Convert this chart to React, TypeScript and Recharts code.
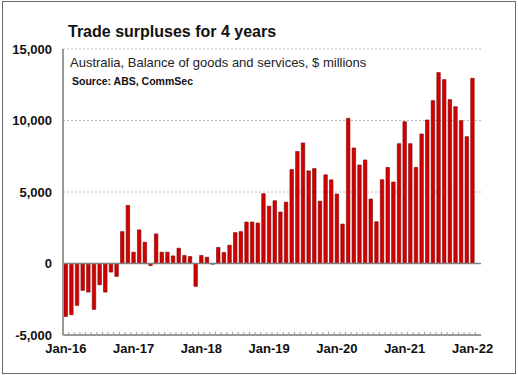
import React from 'react';
import { BarChart, Bar, XAxis, YAxis, CartesianGrid, ReferenceLine } from 'recharts';

const TITLE = 'Trade surpluses for 4 years';
const SUBTITLE = 'Australia, Balance of goods and services, $ millions';
const SOURCE = 'Source: ABS, CommSec';

const MONTH_NAMES = ['Jan', 'Feb', 'Mar', 'Apr', 'May', 'Jun', 'Jul', 'Aug', 'Sep', 'Oct', 'Nov', 'Dec'];
const YEARS = ['16', '17', '18', '19', '20', '21', '22'];
const SLOT_COUNT = 74; // Jan-16 .. Feb-22 (last slot empty)

// Balance of goods and services, $ millions, Jan-16 .. Jan-22
const balance: number[] = [
  -3700, -3580, -2930, -1880, -2000, -3210, -1490, -2000, -600, -900, 2230, 4060,
  790, 2350, 1490, -150, 2070, 790, 790, 530, 1070, 560, 490, -1600,
  560, 440, -50, 1120, 770, 1280, 2160, 2230, 2900, 2900, 2830, 4880,
  4010, 4390, 3600, 4290, 6570, 7830, 8430, 6480, 6640, 4360, 6200, 5850,
  4860, 2760, 10150, 8080, 6890, 7240, 4510, 2920, 5860, 6720, 5700, 8380,
  9920, 8380, 6720, 9060, 10040, 11390, 13350, 12860, 11460, 10970, 9990, 8870,
  12950,
];

const Y_TICKS = [-5000, 0, 5000, 10000, 15000];

const categories: string[] = [];
YEARS.forEach((y) => MONTH_NAMES.forEach((m) => categories.push(`${m}-${y}`)));
const data = categories.slice(0, SLOT_COUNT).map((c, i) => ({
  month: c,
  balance: i < balance.length ? balance[i] : null,
}));

const FONT = '"Liberation Sans", Arial, sans-serif';

const XTick = (props: any) => {
  const { x, y, payload } = props;
  const idx = payload.index;
  const off = payload.offset ?? 2.8;
  return (
    <g>
      <line x1={x - off} x2={x - off} y1={y} y2={y - 3} stroke="#999" strokeWidth={1} />
      {idx % 12 === 0 && (
        <text x={x} y={y + 17.5} textAnchor="middle" fontFamily={FONT} fontWeight="bold" fontSize={13} fill="#111">
          {payload.value}
        </text>
      )}
    </g>
  );
};

export default function App() {
  return (
    <div style={{ position: 'absolute', left: 0, top: 0, width: 518, height: 375, background: '#fff' }}>
      <BarChart
        width={518}
        height={375}
        data={data}
        margin={{ top: 49, right: 37, bottom: 12, left: 8 }}
        barSize={3.5}
      >
        <CartesianGrid vertical={false} stroke="#bbb" strokeDasharray="2 2" />
        <XAxis
          dataKey="month"
          interval={0}
          height={28}
          tickSize={0}
          tickMargin={0}
          tick={<XTick />}
          axisLine={{ stroke: '#999', strokeWidth: 2 }}
          tickLine={false}
        />
        <XAxis
          xAxisId="top"
          dataKey="month"
          orientation="top"
          height={0}
          tick={false}
          tickLine={false}
          axisLine={{ stroke: '#999', strokeWidth: 2 }}
        />
        <YAxis
          domain={[-5000, 15000]}
          ticks={Y_TICKS}
          width={55}
          tickLine={false}
          tickSize={6}
          tickMargin={5}
          allowDataOverflow
          tickFormatter={(v: number) => v.toLocaleString('en-US')}
          tick={{ fontFamily: FONT, fontWeight: 'bold', fontSize: 13, fill: '#111' }}
          axisLine={{ stroke: '#999', strokeWidth: 2 }}
        />
        <YAxis
          yAxisId="r"
          orientation="right"
          domain={[-5000, 15000]}
          ticks={Y_TICKS}
          width={0}
          tick={false}
          tickLine={false}
          axisLine={{ stroke: '#999', strokeWidth: 2 }}
        />
        <ReferenceLine y={0} stroke="#808080" strokeWidth={1.5} />
        <Bar dataKey="balance" fill="#d40000" stroke="#7a0000" strokeWidth={0.6} isAnimationActive={false} />
      </BarChart>
      <svg
        width={518}
        height={375}
        style={{ position: 'absolute', left: 0, top: 0, pointerEvents: 'none' }}
      >
        <text x={68} y={37} fontFamily={FONT} fontWeight="bold" fontSize={16} fill="#111">{TITLE}</text>
        <text x={70} y={67} fontFamily={FONT} fontSize={13} fill="#222">{SUBTITLE}</text>
        <text x={72} y={85} fontFamily={FONT} fontWeight="bold" fontSize={10.5} fill="#111">{SOURCE}</text>
      </svg>
      <div
        style={{
          position: 'absolute',
          left: 2,
          top: 1,
          width: 514,
          height: 373,
          border: '1.5px solid #6b6b6b',
          boxSizing: 'border-box',
          pointerEvents: 'none',
        }}
      />
    </div>
  );
}
